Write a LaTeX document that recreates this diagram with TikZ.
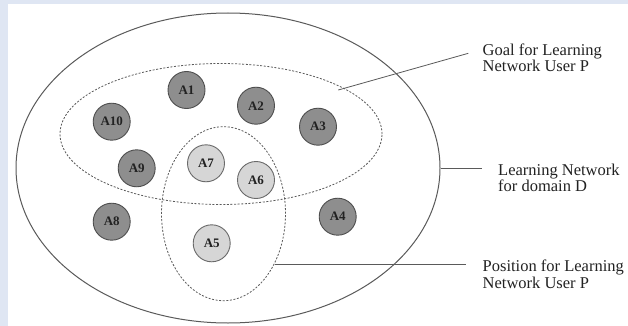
\documentclass[tikz,border=0pt]{standalone}
\usepackage{fontspec}
\setmainfont{Liberation Serif}
\usetikzlibrary{shapes.geometric}
\definecolor{frameblue}{HTML}{DFE6F3}
\definecolor{darkfill}{HTML}{8E8E8E}
\definecolor{darkedge}{HTML}{4E4E4E}
\definecolor{lightfill}{HTML}{D6D6D6}
\definecolor{lightedge}{HTML}{6A6A6A}
\definecolor{linegray}{HTML}{5A5A5A}
\definecolor{textgray}{HTML}{222222}
\tikzset{
  darkact/.style={circle, draw=darkedge, fill=darkfill, line width=0.9pt, minimum size=37pt, inner sep=0pt,
    font=\fontsize{13}{13}\selectfont\bfseries, text=textgray},
  lightact/.style={circle, draw=lightedge, fill=lightfill, line width=0.9pt, minimum size=37pt, inner sep=0pt,
    font=\fontsize{13}{13}\selectfont\bfseries, text=textgray},
  outerell/.style={ellipse, draw=linegray, line width=1pt, inner sep=0pt},
  dashell/.style={ellipse, draw=linegray, line width=0.8pt, dash pattern=on 2pt off 1.6pt, inner sep=0pt},
  labeltext/.style={anchor=base west, align=left, inner sep=0pt, text=textgray,
    font=\fontsize{16.5}{16.3}\selectfont},
  leader/.style={draw=linegray, line width=0.8pt}
}
\begin{document}
\begin{tikzpicture}[x=1pt,y=-1pt]
\useasboundingbox (0,0) rectangle (628,326);
\fill[white] (0,0) rectangle (628,326);
\fill[frameblue] (0,0) rectangle (628,4.5);
\fill[frameblue] (0,0) rectangle (7.5,326);
% outer ellipse
\node[outerell, minimum width=424pt, minimum height=310pt] (outer) at (228,168) {};
% goal ellipse
\node[dashell, minimum width=322pt, minimum height=141pt] (goal) at (221,134) {};
% position ellipse
\node[dashell, minimum width=124pt, minimum height=174pt] (pos) at (223.5,213.7) {};
% activities
\node[darkact] (a1) at (186.5,90) {A1};
\node[darkact] (a2) at (256,105.7) {A2};
\node[darkact] (a3) at (318,126.7) {A3};
\node[darkact] (a4) at (337.7,216.7) {A4};
\node[lightact] (a5) at (211.7,243.3) {A5};
\node[lightact] (a6) at (256,180) {A6};
\node[lightact] (a7) at (206,163.3) {A7};
\node[darkact] (a8) at (111.7,221.7) {A8};
\node[darkact] (a9) at (136.7,168.3) {A9};
\node[darkact] (a10) at (111.7,121.7) {A10};
% labels (base anchor = baseline of the last line)
\node[labeltext] (goallab) at (482.5,72) {Goal for Learning\\Network User P};
\node[labeltext] (netlab) at (498,191.5) {Learning Network\\for domain D};
\node[labeltext] (poslab) at (482.5,288) {Position for Learning\\Network User P};
% leader ends
\coordinate (goalpt) at (338.3,90);
\coordinate (goalend) at (468.3,53.3);
\coordinate (netend) at (481.7,168.3);
\coordinate (posend) at (466,264.3);
\draw[leader] (goalpt) -- (goalend);
\draw[leader] (outer.east) ++(0,0.3) -- (netend);
\draw[leader] (pos.east |- posend) ++(-11.3,0) -- (posend);
\end{tikzpicture}
\end{document}
